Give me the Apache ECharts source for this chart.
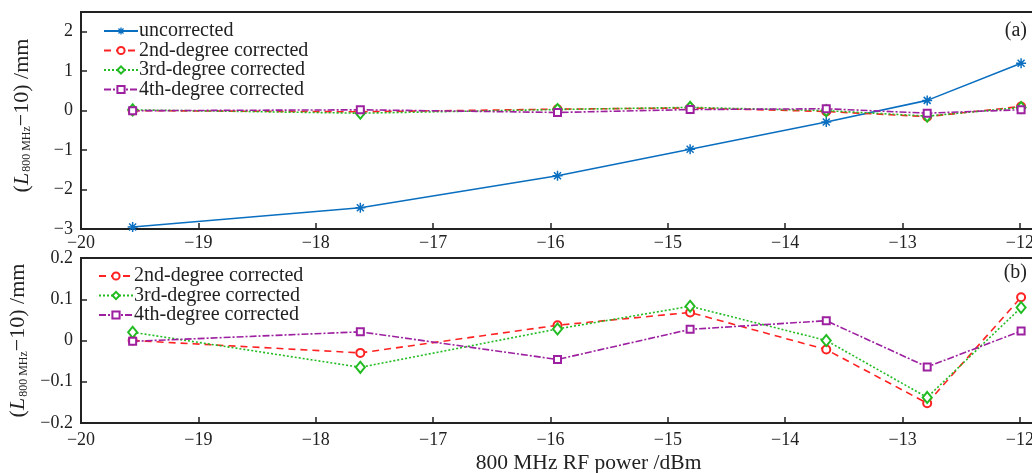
<!DOCTYPE html>
<html>
<head>
<meta charset="utf-8">
<script src="https://cdn.jsdelivr.net/npm/echarts@6/dist/echarts.min.js"></script>
<style>
  html, body { margin: 0; padding: 0; background: #fff; }
  #chart { width: 1032px; height: 473px; }
</style>
</head>
<body>
<div id="chart"></div>
<script>
// RF power (dBm) at which each measurement was taken
var power = [-19.56, -17.62, -15.94, -14.81, -13.65, -12.79, -11.99];

// deviation L(800 MHz) - 10, mm
var uncorrected = [-2.95, -2.46, -1.65, -0.98, -0.29, 0.26, 1.2];
var deg2 = [0.0, -0.03, 0.037, 0.068, -0.022, -0.152, 0.105];
var deg3 = [0.02, -0.065, 0.028, 0.083, 0.0, -0.138, 0.08];
var deg4 = [-0.002, 0.021, -0.046, 0.027, 0.048, -0.064, 0.023];

var names = ['uncorrected', '2nd-degree corrected', '3rd-degree corrected', '4th-degree corrected'];

var FONT = 'Liberation Serif';
var BLUE = '#0a6fc0', RED = '#ff2222', GREEN = '#22bb22', PURPLE = '#9c20a0';
var AXIS = '#222';

function pairs(ys) {
  return ys.map(function (v, i) { return [power[i], v]; });
}
function minus(v) {
  return String(v).replace('-', '\u2212');
}

var star = 'path://M0,5L10,5M5,0L5,10M1.5,1.5L8.5,8.5M8.5,1.5L1.5,8.5';

function xAxis(idx, withName) {
  var ax = {
    type: 'value', gridIndex: idx, min: -20, max: -11.88, interval: 1,
    axisLine: { onZero: false, lineStyle: { color: AXIS, width: 2 } },
    axisTick: { inside: true, length: 6, lineStyle: { color: AXIS, width: 1.5 } },
    axisLabel: { fontFamily: FONT, fontSize: 18, color: '#222', margin: idx === 0 ? 5 : 8,
      formatter: minus, showMaxLabel: false },
    splitLine: { show: false }
  };
  if (withName) {
    ax.name = '800 MHz RF power /dBm';
    ax.nameLocation = 'middle';
    ax.nameGap = 29;
    ax.nameTextStyle = { fontFamily: FONT, fontSize: 21.5, color: '#222', padding: [0, 0, 0, 62] };
  }
  return ax;
}

var yName = '{a|(}{i|L}{s|800 MHz}{a|\u221210) /mm}';
var yRich = {
  a: { fontFamily: FONT, fontSize: 22, color: '#222' },
  i: { fontFamily: FONT, fontSize: 22, fontStyle: 'italic', color: '#222' },
  s: { fontFamily: FONT, fontSize: 12, color: '#222', padding: [10, 0, 0, 1] }
};

function yAxis(idx, min, max, step, hideMax) {
  return {
    type: 'value', gridIndex: idx, min: min, max: max, interval: step,
    name: yName, nameLocation: 'middle', nameRotate: 90, nameGap: 48,
    nameTextStyle: { rich: yRich, padding: idx === 0 ? [0, 0, 0, 10] : 0 },
    axisLine: { show: true, lineStyle: { color: AXIS, width: 2 } },
    axisTick: { show: true, inside: true, length: 6, lineStyle: { color: AXIS, width: 1.5 } },
    axisLabel: { fontFamily: FONT, fontSize: 18, color: '#222', margin: 8, formatter: minus,
      showMaxLabel: !hideMax },
    splitLine: { show: false }
  };
}

function corrected(gi) {
  return [
    { name: names[1], type: 'line', xAxisIndex: gi, yAxisIndex: gi, data: pairs(deg2),
      symbol: 'emptyCircle', symbolSize: 8, color: RED,
      lineStyle: { color: RED, width: 1.6, type: [7, 5] }, itemStyle: { borderWidth: 1.5 } },
    { name: names[2], type: 'line', xAxisIndex: gi, yAxisIndex: gi, data: pairs(deg3),
      symbol: 'emptyDiamond', symbolSize: [9, 11], color: GREEN,
      lineStyle: { color: GREEN, width: 1.6, type: [2, 2] }, itemStyle: { borderWidth: 1.5 } },
    { name: names[3], type: 'line', xAxisIndex: gi, yAxisIndex: gi, data: pairs(deg4),
      symbol: 'emptyRect', symbolSize: 7, color: PURPLE,
      lineStyle: { color: PURPLE, width: 1.6, type: [7, 2, 2, 2] }, itemStyle: { borderWidth: 1.5 } }
  ];
}

var legendText = { fontFamily: FONT, fontSize: 20, color: '#222', lineHeight: 18, padding: [0, 0, 0, -4] };
var topLegend = [{ name: names[0], itemStyle: { color: BLUE, borderColor: BLUE, borderWidth: 1.3 } }]
  .concat(names.slice(1));

var chart = echarts.init(document.getElementById('chart'), null, { renderer: 'canvas' });
chart.setOption({
  animation: false,
  backgroundColor: '#fff',
  grid: [
    { left: 81, right: -2, top: 12, height: 217, show: true, borderColor: AXIS, borderWidth: 2,
      outerBoundsMode: 'none' },
    { left: 81, right: -2, top: 258, height: 165, show: true, borderColor: AXIS, borderWidth: 2,
      outerBoundsMode: 'none' }
  ],
  legend: [
    { data: topLegend, orient: 'vertical', left: 103, top: 21, padding: 0, itemWidth: 34, itemHeight: 9,
      itemGap: -0.5, textStyle: legendText, selectedMode: false },
    { data: names.slice(1), orient: 'vertical', left: 98, top: 266, padding: 0, itemWidth: 34, itemHeight: 9,
      itemGap: -0.5, textStyle: legendText, selectedMode: false }
  ],
  xAxis: [xAxis(0, false), xAxis(1, true)],
  yAxis: [yAxis(0, -3, 2.5, 1, true), yAxis(1, -0.2, 0.2, 0.1, false)],
  graphic: [
    { type: 'text', right: 5, top: 21, style: { text: '(a)', font: '20px "Liberation Serif"', fill: '#222' } },
    { type: 'text', right: 5, top: 263, style: { text: '(b)', font: '20px "Liberation Serif"', fill: '#222' } }
  ],
  series: [
    { name: names[0], type: 'line', xAxisIndex: 0, yAxisIndex: 0, data: pairs(uncorrected),
      symbol: star, symbolSize: 10, color: BLUE,
      lineStyle: { color: BLUE, width: 1.6 }, itemStyle: { borderColor: BLUE, borderWidth: 1.5 } }
  ].concat(corrected(0), corrected(1))
});
</script>
</body>
</html>
